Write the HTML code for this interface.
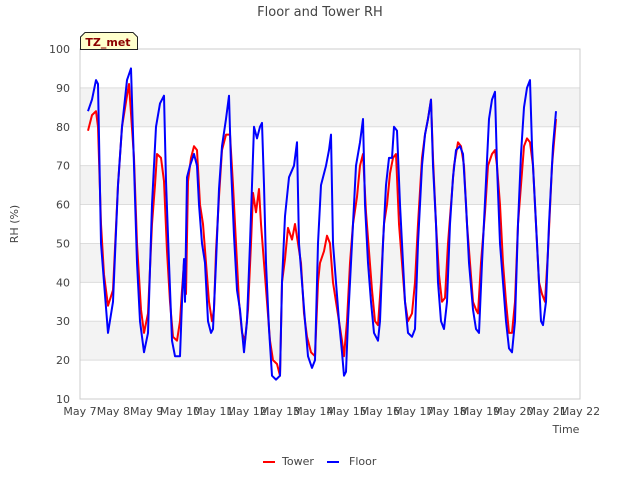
<!DOCTYPE html>
<html><head><meta charset="utf-8"><style>
body{margin:0;background:#fff;font-family:"Liberation Sans","DejaVu Sans",sans-serif;}
svg text{font-family:"DejaVu Sans","Liberation Sans",sans-serif;fill:#444;}
</style></head><body>
<svg id="chart" width="640" height="480">
<g id="bands"></g><g id="grid"></g><g id="ticks"></g><g id="series"></g>
<text x="320" y="16" text-anchor="middle" font-size="13">Floor and Tower RH</text>
<text x="18" y="224" text-anchor="middle" font-size="11" transform="rotate(-90 18 224)">RH (%)</text>
<text x="566" y="433" text-anchor="middle" font-size="11">Time</text>
<g>
<path d="M80.5,49.5 V37 L85,32.5 H133 L137.5,37 V49.5 Z" fill="#ffffcc" stroke="#222"/>
<text x="108" y="46" text-anchor="middle" font-size="11" font-weight="bold" style="fill:#8b0000">TZ_met</text>
</g>
<g>
<g><line x1="263" y1="462" x2="275" y2="462" stroke="#f00" stroke-width="2"/><text x="282" y="465" font-size="11">Tower</text></g>
<g><line x1="327" y1="462" x2="339" y2="462" stroke="#00f" stroke-width="2"/><text x="349" y="465" font-size="11">Floor</text></g>
</g>
</svg>
<script>
const xTickLabels=["May 7","May 8","May 9","May 10","May 11","May 12","May 13","May 14","May 15","May 16","May 17","May 18","May 19","May 20","May 21","May 22"];
const yTicks=[10,20,30,40,50,60,70,80,90,100];
const floorTimes=[0.24,0.36,0.48,0.54,0.63,0.72,0.84,0.99,1.14,1.26,1.41,1.53,1.62,1.71,1.80,1.92,2.04,2.16,2.28,2.40,2.52,2.58,2.67,2.76,2.85,3.00,3.06,3.12,3.15,3.21,3.30,3.42,3.51,3.57,3.66,3.75,3.84,3.93,3.99,4.08,4.17,4.26,4.38,4.47,4.53,4.62,4.71,4.80,4.92,5.01,5.10,5.22,5.31,5.40,5.46,5.52,5.58,5.67,5.76,5.88,6.00,6.06,6.15,6.27,6.42,6.51,6.57,6.66,6.75,6.84,6.96,7.05,7.14,7.23,7.38,7.47,7.53,7.59,7.68,7.77,7.86,7.92,7.98,8.04,8.16,8.28,8.40,8.49,8.55,8.64,8.73,8.82,8.94,9.00,9.09,9.18,9.27,9.36,9.42,9.51,9.60,9.69,9.75,9.84,9.96,10.05,10.14,10.26,10.35,10.44,10.53,10.59,10.68,10.74,10.83,10.92,11.01,11.10,11.19,11.28,11.40,11.49,11.58,11.67,11.79,11.88,11.97,12.06,12.18,12.27,12.36,12.45,12.51,12.60,12.69,12.78,12.87,12.96,13.05,13.14,13.23,13.32,13.41,13.50,13.56,13.65,13.74,13.83,13.89,13.98,14.07,14.19,14.28];
const floorValues=[84,87,92,91,50,40,27,35,65,80,92,95,70,45,30,22,27,60,80,86,88,66,45,25,21,21,35,46,35,67,70,73,70,60,50,45,30,27,28,45,64,75,82,88,70,52,38,33,22,30,50,80,77,80,81,65,45,28,16,15,16,40,57,67,70,76,50,40,30,21,18,20,50,65,70,74,78,50,40,30,22,16,17,30,50,70,76,82,60,45,35,27,25,30,50,65,72,72,80,79,60,45,35,27,26,28,50,70,78,82,87,70,55,40,30,28,35,55,67,74,75,73,60,45,33,28,27,45,66,82,87,89,70,50,40,30,23,22,30,55,73,85,90,92,75,60,45,30,29,35,55,75,84];
const towerTimes=[0.24,0.36,0.48,0.54,0.63,0.72,0.84,0.99,1.14,1.26,1.41,1.47,1.62,1.71,1.83,1.92,2.04,2.16,2.25,2.31,2.43,2.52,2.61,2.70,2.79,2.91,3.00,3.06,3.12,3.18,3.24,3.33,3.42,3.51,3.60,3.69,3.78,3.87,3.96,4.02,4.08,4.17,4.26,4.38,4.50,4.59,4.68,4.77,4.86,4.95,5.04,5.13,5.19,5.28,5.37,5.43,5.52,5.61,5.70,5.79,5.91,6.00,6.06,6.15,6.24,6.36,6.45,6.54,6.63,6.72,6.81,6.93,7.05,7.14,7.20,7.32,7.41,7.50,7.59,7.68,7.77,7.86,7.92,8.01,8.10,8.19,8.31,8.40,8.49,8.58,8.67,8.76,8.85,8.94,9.03,9.12,9.21,9.30,9.39,9.48,9.57,9.66,9.75,9.84,9.96,10.05,10.14,10.26,10.35,10.44,10.53,10.59,10.68,10.77,10.86,10.95,11.04,11.13,11.22,11.34,11.43,11.52,11.61,11.70,11.79,11.88,11.94,12.03,12.15,12.24,12.36,12.45,12.51,12.60,12.69,12.78,12.87,12.96,13.05,13.14,13.23,13.32,13.41,13.50,13.59,13.68,13.77,13.86,13.95,14.04,14.16,14.28];
const towerValues=[79,83,84,80,55,42,34,38,65,80,88,91,72,50,33,27,32,55,65,73,72,66,48,35,26,25,30,38,45,37,66,72,75,74,60,55,45,35,30,33,48,62,74,78,78,65,50,35,27,25,33,50,63,58,64,55,45,35,25,20,19,16,40,46,54,51,55,50,45,32,26,22,21,40,45,48,52,50,40,35,30,25,21,30,45,55,62,70,73,58,48,38,30,29,40,55,60,68,72,73,55,45,35,30,32,40,55,72,78,82,87,72,55,42,35,36,50,60,70,76,75,70,55,45,35,33,32,45,58,70,73,74,70,60,45,35,27,27,35,55,65,75,77,76,70,55,40,37,35,48,70,82];

const L=80,R=580,T=49,B=399,NS="http://www.w3.org/2000/svg";
const xS=d=>L+(R-L)*d/15;
const yS=v=>B-(B-T)*(v-10)/90;
function mk(tag,attrs,parent){const e=document.createElementNS(NS,tag);for(const k in attrs)e.setAttribute(k,attrs[k]);document.getElementById(parent).appendChild(e);return e;}
for(let i=0;i<yTicks.length-1;i++){
  if(yTicks[i]%20===0){const b=mk('rect',{x:L,y:yS(yTicks[i+1]),width:R-L,height:yS(yTicks[i])-yS(yTicks[i+1]),fill:'#f3f3f3'},'bands');
  
  }
}
yTicks.forEach(v=>{
  const g=mk('line',{x1:L,x2:R,y1:yS(v),y2:yS(v),stroke:'#ddd'},'grid');
  
  
  const t=mk('text',{x:L-10,y:yS(v)+4,'text-anchor':'end','font-size':11},'ticks');
  t.textContent=v;
  
  
});
const fr=mk('rect',{x:L,y:T,width:R-L,height:B-T,fill:'none',stroke:'#ccc'},'grid');


xTickLabels.forEach((s,i)=>{
  const t=mk('text',{x:xS(i),y:415,'text-anchor':'middle','font-size':11},'ticks');
  t.textContent=s;
  
  
});
function line(times,vals,color,name){
  const d=times.map((t,i)=>(i?'L':'M')+xS(t).toFixed(1)+','+yS(vals[i]).toFixed(1)).join('');
  const p=mk('path',{d:d,fill:'none',stroke:color,'stroke-width':2,'stroke-linejoin':'round'},'series');
  
  
}
line(towerTimes,towerValues,'#ff0000','tower-line');
line(floorTimes,floorValues,'#0000ff','floor-line');
</script>
</body></html>
